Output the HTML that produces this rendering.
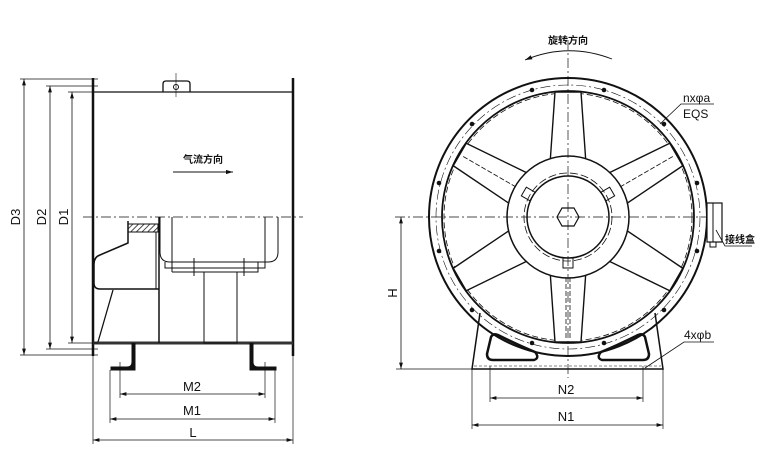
<!DOCTYPE html>
<html><head><meta charset="utf-8"><style>
html,body{margin:0;padding:0;background:#fff}
svg{display:block}
text{font-family:"Liberation Sans","Noto Sans CJK SC",sans-serif;fill:#111}
</style></head><body>
<svg width="765" height="459" viewBox="0 0 765 459" xmlns="http://www.w3.org/2000/svg">
<defs>
<marker id="a" viewBox="0 0 10 6" refX="10" refY="3" markerWidth="8" markerHeight="5" orient="auto-start-reverse"><path d="M0,0 L10,3 L0,6z" fill="#111"/></marker>
<pattern id="h" width="4" height="4" patternUnits="userSpaceOnUse" patternTransform="rotate(45)"><line x1="0" y1="0" x2="0" y2="4" stroke="#111" stroke-width="1.5"/></pattern>
</defs>
<g stroke="#111" fill="none" stroke-width="1">
<!-- LEFT VIEW -->
<line x1="93" y1="78" x2="93" y2="356" stroke-width="2.5"/>
<line x1="293" y1="78" x2="293" y2="356" stroke-width="2.5"/>
<line x1="93" y1="92" x2="293" y2="92" stroke-width="1.3"/>
<path d="M163,92 V84 Q163,81 166,81 H187 Q190,81 190,84 V92" stroke-width="1.3"/>
<circle cx="176" cy="87" r="2.5"/>
<line x1="176" y1="73" x2="176" y2="97" stroke-width="0.6"/>
<line x1="83" y1="217" x2="303" y2="217" stroke-dasharray="10,3,2,3" stroke-width="0.8"/>
<line x1="93" y1="343" x2="293" y2="343" stroke-width="3" stroke="#333"/>
<rect x="128" y="224" width="30" height="8" fill="url(#h)" stroke-width="1"/>
<path d="M128,221 V243 L100,255 Q94,257 94,264 V283 Q94,289 100,289 H159" stroke-width="1.5"/>
<line x1="159" y1="217" x2="159" y2="343" stroke-width="1.5"/>
<line x1="156" y1="232" x2="156" y2="289"/>
<line x1="113" y1="290" x2="98" y2="342" stroke-width="1.3"/>
<path d="M160,217 V252 Q160,262 170,262 H268 Q278,262 278,252 V217"/>
<line x1="172" y1="217" x2="172" y2="272"/>
<line x1="265" y1="217" x2="265" y2="262"/>
<path d="M172,272 H258 V262 M165,262 V268 H265 V262"/>
<line x1="194" y1="258" x2="194" y2="276"/>
<line x1="244" y1="258" x2="244" y2="276"/>
<rect x="204" y="272" width="33" height="71"/>
<path d="M132,343 V362 Q132,367 127,367 H111 V370 H135 V343" fill="#111"/>
<path d="M253,343 V362 Q253,367 258,367 H276 V370 H250 V343" fill="#111"/>
<line x1="120" y1="362" x2="120" y2="398" stroke-width="0.7"/>
<line x1="265" y1="362" x2="265" y2="398" stroke-width="0.7"/>
<line x1="110" y1="370" x2="110" y2="423" stroke-width="0.7"/>
<line x1="275" y1="370" x2="275" y2="423" stroke-width="0.7"/>
<line x1="93" y1="356" x2="93" y2="444" stroke-width="0.7"/>
<line x1="293" y1="356" x2="293" y2="444" stroke-width="0.7"/>
<line x1="120" y1="394" x2="265" y2="394" marker-start="url(#a)" marker-end="url(#a)" stroke-width="0.8"/>
<line x1="110" y1="419" x2="275" y2="419" marker-start="url(#a)" marker-end="url(#a)" stroke-width="0.8"/>
<line x1="93" y1="440" x2="293" y2="440" marker-start="url(#a)" marker-end="url(#a)" stroke-width="0.8"/>
<line x1="20" y1="79" x2="98" y2="79" stroke-width="0.7"/>
<line x1="20" y1="355" x2="98" y2="355" stroke-width="0.7"/>
<line x1="46" y1="86" x2="98" y2="86" stroke-width="0.7"/>
<line x1="46" y1="349" x2="98" y2="349" stroke-width="0.7"/>
<line x1="68" y1="92" x2="98" y2="92" stroke-width="0.7"/>
<line x1="68" y1="343" x2="98" y2="343" stroke-width="0.7"/>
<line x1="24" y1="79" x2="24" y2="355" marker-start="url(#a)" marker-end="url(#a)" stroke-width="0.8"/>
<line x1="50" y1="86" x2="50" y2="349" marker-start="url(#a)" marker-end="url(#a)" stroke-width="0.8"/>
<line x1="72" y1="92" x2="72" y2="343" marker-start="url(#a)" marker-end="url(#a)" stroke-width="0.8"/>
<line x1="173" y1="172" x2="233" y2="172" marker-end="url(#a)" stroke-width="0.9"/>

<!-- RIGHT VIEW -->
<circle cx="568" cy="217" r="139" stroke-width="2"/>
<circle cx="568" cy="217" r="126" stroke-width="1.8"/>
<circle cx="568" cy="217" r="132" stroke-width="0.6" stroke-dasharray="10,3,2,3"/>
<circle cx="568" cy="217" r="124" stroke-width="0.8" stroke-dasharray="6,3"/>
<g fill="#111" stroke="none">
<circle cx="532" cy="90" r="2.3"/><circle cx="604" cy="90" r="2.3"/>
<circle cx="472" cy="124" r="2.3"/><circle cx="664" cy="124" r="2.3"/>
<circle cx="439" cy="183" r="2.3"/><circle cx="697" cy="183" r="2.3"/>
<circle cx="439" cy="251" r="2.3"/><circle cx="697" cy="251" r="2.3"/>
<circle cx="472" cy="310" r="2.3"/><circle cx="664" cy="310" r="2.3"/>
<circle cx="532" cy="343" r="2.3"/><circle cx="604" cy="343" r="2.3"/>
</g>
<g stroke-width="1.4" fill="#fff">
<path d="M550,164 L555,92 H581 L586,164" transform="rotate(0 568 217)"/>
<path d="M550,164 L555,92 H581 L586,164" transform="rotate(60 568 217)"/>
<path d="M550,164 L555,92 H581 L586,164" transform="rotate(120 568 217)"/>
<path d="M550,164 L555,92 H581 L586,164" transform="rotate(180 568 217)"/>
<path d="M550,164 L555,92 H581 L586,164" transform="rotate(240 568 217)"/>
<path d="M550,164 L555,92 H581 L586,164" transform="rotate(300 568 217)"/>
</g>
<g stroke-width="0.8" stroke-dasharray="5,2">
<line x1="568" y1="157" x2="568" y2="96" transform="rotate(-60 568 217)"/>
<line x1="568" y1="157" x2="568" y2="96" transform="rotate(60 568 217)"/>
<line x1="566" y1="277" x2="566" y2="338"/><line x1="570" y1="277" x2="570" y2="338"/>
</g>
<circle cx="568" cy="217" r="61" stroke-width="1.5" fill="#fff"/>
<circle cx="568" cy="217" r="41" stroke-width="1.5"/>
<circle cx="568" cy="217" r="44" stroke-width="0.8" stroke-dasharray="8,3"/>
<polygon points="557,217 562,208 574,208 579,217 574,226 562,226" stroke-width="1.2"/>
<rect x="563" y="258" width="10" height="10" stroke-width="1"/>
<rect x="563" y="166" width="10" height="10" transform="rotate(-60 568 217)"/>
<rect x="563" y="166" width="10" height="10" transform="rotate(60 568 217)"/>
<line x1="568" y1="40" x2="568" y2="378" stroke-dasharray="10,3,2,3" stroke-width="0.7"/>
<line x1="395" y1="217" x2="722" y2="217" stroke-dasharray="10,3,2,3" stroke-width="0.7"/>
<path d="M480,313 L472,369 H663 L655,313" stroke-width="1.5"/>
<path d="M491,337 Q493,333 498,335 Q518,345 535,352 Q540,358 534,360 H493 Q487,360 487,354 Z" stroke-width="2.5"/>
<path d="M645,337 Q643,333 638,335 Q618,345 601,352 Q596,358 602,360 H643 Q649,360 649,354 Z" stroke-width="2.5"/>
<line x1="474" y1="366" x2="661" y2="366" stroke-width="0.6" stroke-dasharray="3,2"/>
<rect x="707" y="203" width="15" height="39" stroke-width="1.2" fill="#fff"/>
<line x1="713" y1="203" x2="713" y2="242"/>
<rect x="710" y="242" width="6" height="5"/>
<polyline points="716,230 725,246 752,246" stroke-width="0.8"/>
<path d="M612,59 Q568,42 525,60" marker-end="url(#a)" stroke-width="0.9"/>
<polyline points="660,124 681,104 714,104" stroke-width="0.8"/>
<polyline points="645,368 684,342 714,342" stroke-width="0.8"/>
<line x1="396" y1="369" x2="472" y2="369" stroke-width="0.7"/>
<line x1="401" y1="217" x2="401" y2="369" marker-start="url(#a)" marker-end="url(#a)" stroke-width="0.8"/>
<line x1="490" y1="366" x2="490" y2="402" stroke-width="0.7"/>
<line x1="643" y1="366" x2="643" y2="402" stroke-width="0.7"/>
<line x1="472" y1="369" x2="472" y2="429" stroke-width="0.7"/>
<line x1="663" y1="369" x2="663" y2="429" stroke-width="0.7"/>
<line x1="490" y1="398" x2="643" y2="398" marker-start="url(#a)" marker-end="url(#a)" stroke-width="0.8"/>
<line x1="472" y1="425" x2="663" y2="425" marker-start="url(#a)" marker-end="url(#a)" stroke-width="0.8"/>
</g>
<g font-size="13">
<text x="192" y="391" text-anchor="middle">M2</text>
<text x="192" y="415" text-anchor="middle">M1</text>
<text x="193" y="437" text-anchor="middle">L</text>
<text x="566" y="394" text-anchor="middle">N2</text>
<text x="566" y="421" text-anchor="middle">N1</text>
<text transform="translate(20,217) rotate(-90)" text-anchor="middle">D3</text>
<text transform="translate(46,217) rotate(-90)" text-anchor="middle">D2</text>
<text transform="translate(68,217) rotate(-90)" text-anchor="middle">D1</text>
<text transform="translate(397,293) rotate(-90)" text-anchor="middle">H</text>
<text x="683" y="102" font-size="12">nxφa</text>
<text x="683" y="118" font-size="12">EQS</text>
<text x="684" y="339" font-size="12">4xφb</text>
</g>
<g font-size="10" font-weight="bold">
<text x="183" y="163">气流方向</text>
<text x="548" y="44">旋转方向</text>
<text x="725" y="243">接线盒</text>
</g>
</svg>
</body></html>
